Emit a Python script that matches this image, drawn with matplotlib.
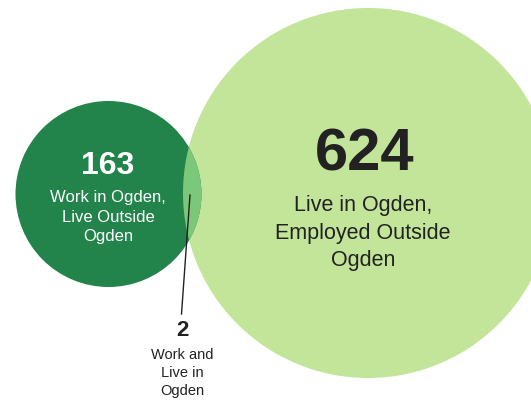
import matplotlib
matplotlib.use('Agg')
import matplotlib.pyplot as plt
from matplotlib.patches import Circle

# numbers and labels from the chart
counts = [163, 624, 2]
labels = ["Work in Ogden,\nLive Outside\nOgden",
          "Live in Ogden,\nEmployed Outside\nOgden",
          "Work and\nLive in\nOgden"]

plt.rcParams['font.family'] = ['Liberation Sans', 'DejaVu Sans']

fig = plt.figure(figsize=(5.31, 4), dpi=100)
ax = fig.add_axes([0, 0, 1, 1])
ax.set_xlim(0, 531)
ax.set_ylim(400, 0)
ax.set_aspect('equal')
ax.axis('off')

dark = '#22844a'
light = '#c2e59a'
mid = '#7cc77a'

# circles (pixel layout)
small = Circle((108.5, 194), 93, color=dark, lw=0)
big = Circle((368, 193), 185, color=light, lw=0)
ax.add_patch(big)
ax.add_patch(small)

# overlap region: small circle clipped to big circle
overlap = Circle((108.5, 194), 93, color=mid, lw=0)
ax.add_patch(overlap)
clip = Circle((368, 193), 185, transform=ax.transData)
overlap.set_clip_path(clip)

# left circle text
ax.text(108, 166, f'{counts[0]}', color='white', fontsize=23, fontweight='bold',
        ha='center', va='center')
ax.text(108, 217, labels[0], color='white', fontsize=12, ha='center', va='center',
        linespacing=1.35)

# right circle text
ax.text(365, 155, f'{counts[1]}', color='#222222', fontsize=43, fontweight='bold',
        ha='center', va='center')
ax.text(363, 233, labels[1], color='#222222', fontsize=15.5, ha='center', va='center',
        linespacing=1.42)

# intersection callout
ax.plot([190, 181.5], [195, 314], color='#222222', lw=1)
ax.text(182, 330, f'{counts[2]}', color='#222222', fontsize=16, fontweight='bold',
        ha='center', va='center')
ax.text(182, 373, labels[2], color='#222222', fontsize=10.5, ha='center', va='center',
        linespacing=1.4)

fig.savefig('out.png', dpi=100)
plt.close(fig)
